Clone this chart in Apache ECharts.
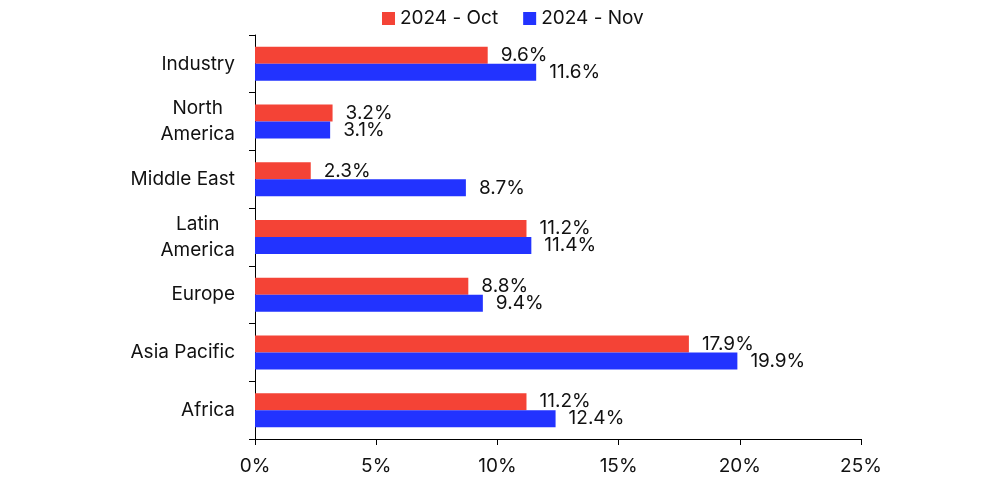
<!DOCTYPE html>
<html>
<head>
<meta charset="utf-8">
<script src="https://cdn.jsdelivr.net/npm/echarts@6/dist/echarts.min.js"></script>
<style>html,body{margin:0;padding:0;background:#fff}#c{width:1000px;height:486px}</style>
</head>
<body>
<div id="c"></div>
<script>
const categories = ['Industry', 'North\nAmerica', 'Middle East', 'Latin\nAmerica', 'Europe', 'Asia Pacific', 'Africa'];
const oct2024 = [9.6, 3.2, 2.3, 11.2, 8.8, 17.9, 11.2];
const nov2024 = [11.6, 3.1, 8.7, 11.4, 9.4, 19.9, 12.4];
const seriesNames = ['2024 - Oct', '2024 - Nov'];
const xTicks = [0, 5, 10, 15, 20, 25];

const chart = echarts.init(document.getElementById('c'), null, {renderer: 'canvas'});
const font = 'Inter, Roboto, sans-serif';
const lbl = {
  show: true, position: 'right', distance: 13,
  formatter: p => p.value.toFixed(1) + '%',
  color: '#111', fontSize: 19, fontFamily: font
};
chart.setOption({
  animation: false,
  textStyle: {fontFamily: font},
  color: ['#F44336', '#2233FF'],
  legend: {
    top: 4, left: 377, itemWidth: 13, itemHeight: 13, itemGap: 25,
    icon: 'rect',
    textStyle: {fontSize: 19, color: '#111', fontFamily: font},
    data: seriesNames
  },
  grid: {left: 255, right: 139, top: 35, bottom: 47},
  xAxis: {
    type: 'value', min: xTicks[0], max: xTicks[xTicks.length - 1], interval: 5,
    axisLine: {show: true, lineStyle: {color: '#000', width: 1}},
    axisTick: {show: true, length: 6, lineStyle: {color: '#000'}},
    splitLine: {show: false},
    axisLabel: {formatter: v => v + '%', fontSize: 19, color: '#111', margin: 18, fontFamily: font}
  },
  yAxis: {
    type: 'category', data: categories, inverse: true,
    axisLine: {show: true, lineStyle: {color: '#000', width: 1}},
    axisTick: {show: true, length: 6, lineStyle: {color: '#000'}},
    axisLabel: {
      margin: 20, fontFamily: font,
      formatter: v => v.split('\n').map(s => '{c|' + s + '}').join('\n'),
      rich: {c: {fontSize: 19, color: '#111', lineHeight: 26, align: 'center', fontFamily: font}}
    }
  },
  series: [
    {name: seriesNames[0], type: 'bar', data: oct2024, barWidth: 17, barGap: '0%', label: lbl},
    {name: seriesNames[1], type: 'bar', data: nov2024, barWidth: 17, barGap: '0%', label: lbl}
  ]
});
</script>
</body>
</html>
